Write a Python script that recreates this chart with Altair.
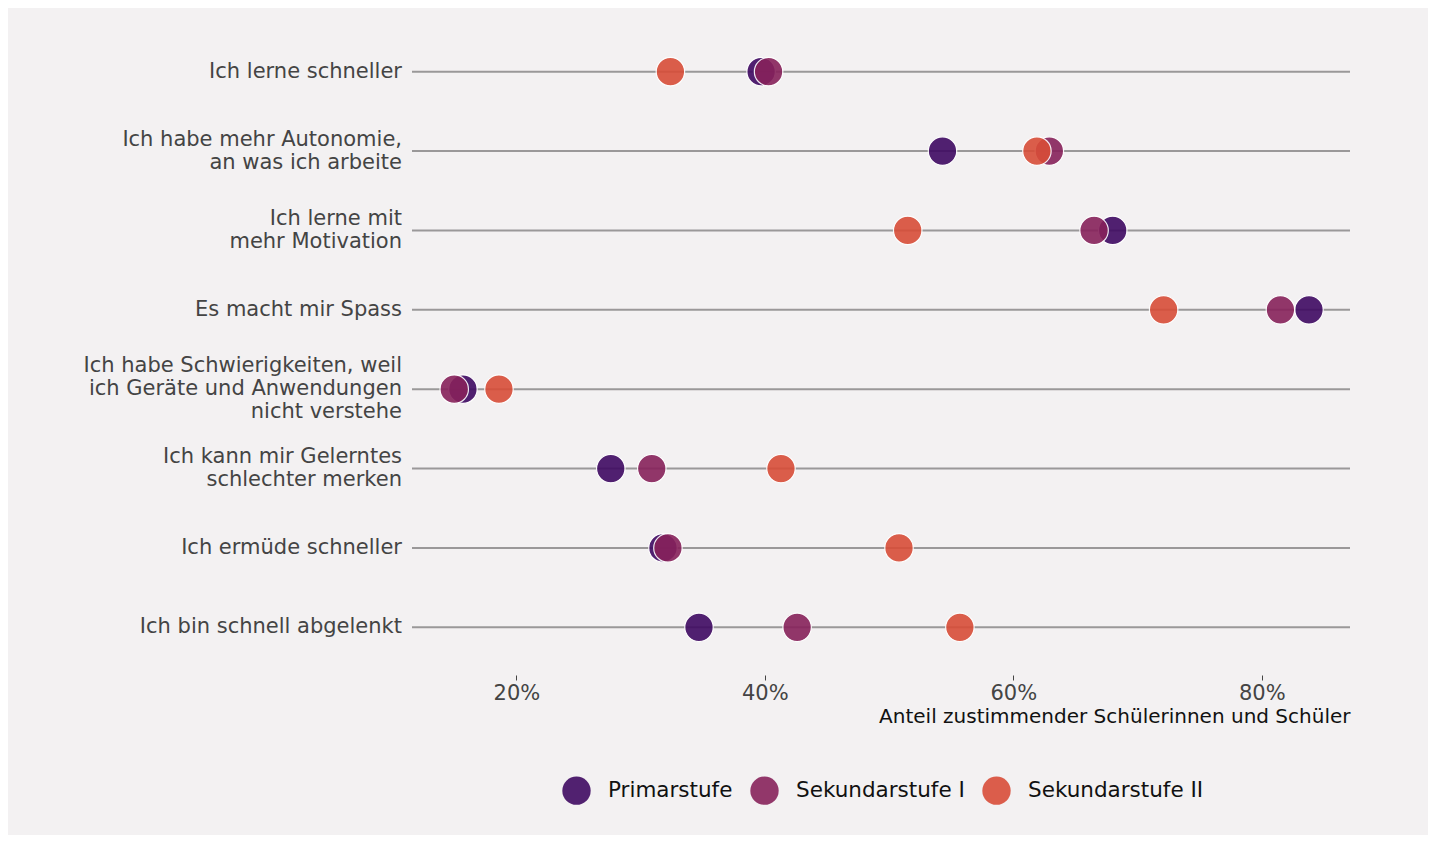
import altair as alt
import pandas as pd

categories = [
    "Ich lerne schneller",
    "Ich habe mehr Autonomie,|an was ich arbeite",
    "Ich lerne mit|mehr Motivation",
    "Es macht mir Spass",
    "Ich habe Schwierigkeiten, weil|ich Geräte und Anwendungen|nicht verstehe",
    "Ich kann mir Gelerntes|schlechter merken",
    "Ich ermüde schneller",
    "Ich bin schnell abgelenkt",
]
series = ["Primarstufe", "Sekundarstufe I", "Sekundarstufe II"]
primar = [0.397, 0.543, 0.680, 0.838, 0.157, 0.276, 0.318, 0.347]
sek1 = [0.403, 0.629, 0.665, 0.815, 0.150, 0.309, 0.322, 0.426]
sek2 = [0.324, 0.619, 0.515, 0.721, 0.186, 0.413, 0.508, 0.557]
colors = ["#3f0a62", "#87225b", "#d84d38"]
x_ticks = [0.2, 0.4, 0.6, 0.8]

rows = []
for name, vals in zip(series, [primar, sek1, sek2]):
    for c, v in zip(categories, vals):
        rows.append({"Kategorie": c, "Stufe": name, "Wert": v, "order": series.index(name)})
df = pd.DataFrame(rows)
cat_df = pd.DataFrame({"Kategorie": categories})

LINE_H = 23
label_rows = []
for c in categories:
    parts = c.split("|")
    n = len(parts)
    for i, p in enumerate(parts):
        label_rows.append({"Kategorie": c, "Zeile": p, "off": (i - (n - 1) / 2) * LINE_H})
label_df = pd.DataFrame(label_rows)

W, H = 938, 635
FONT = "DejaVu Sans"

yenc = alt.Y("Kategorie:N", sort=categories, title=None, axis=None)

label_layers = []
for off in sorted(set(label_df["off"])):
    label_layers.append(
        alt.Chart(label_df[label_df["off"] == off]).mark_text(
            align="right", baseline="middle", font=FONT, fontSize=21,
            color="#444444", dy=float(off),
        ).encode(y=yenc, x=alt.value(-10), text="Zeile:N")
    )

rules = alt.Chart(cat_df).mark_rule(color="#9a9899", strokeWidth=2).encode(
    y=yenc,
    x=alt.value(0),
    x2=alt.value(W),
)

points = alt.Chart(df).mark_circle(size=810, opacity=0.9, stroke="white", strokeWidth=1.2).encode(
    y=yenc,
    x=alt.X(
        "Wert:Q",
        scale=alt.Scale(domain=[0.116, 0.871], nice=False, zero=False),
        title="Anteil zustimmender Schülerinnen und Schüler",
        axis=alt.Axis(
            values=x_ticks, format=".0%", grid=False, domain=False,
            offset=8, tickSize=5, tickColor="#444444", tickWidth=1,
            labelFontSize=21, labelColor="#444444", labelFont=FONT, labelPadding=2,
            titleFontSize=20, titleColor="#111111", titleFont=FONT, titleFontWeight="normal",
            titleAnchor="end", titlePadding=3,
        ),
    ),
    color=alt.Color(
        "Stufe:N",
        scale=alt.Scale(domain=series, range=colors),
        legend=alt.Legend(
            title=None, orient="none", direction="horizontal",
            legendX=150, legendY=744, symbolType="circle", symbolSize=804,
            symbolOpacity=0.9, symbolStrokeWidth=0,
            labelFontSize=21.5, labelColor="#111111", labelFont=FONT, labelLimit=400,
            labelOffset=17, columnPadding=17, padding=0,
        ),
    ),
    order=alt.Order("order:Q"),
)

chart = alt.layer(*label_layers, rules, points).properties(
    width=W, height=H,
    background="#f3f1f2",
    padding={"left": 404, "top": 24, "right": 78, "bottom": 168},
    autosize=alt.AutoSizeParams(type="none"),
).configure_view(stroke=None)

chart.save("out.html", embed_options={"renderer": "svg", "actions": False})
